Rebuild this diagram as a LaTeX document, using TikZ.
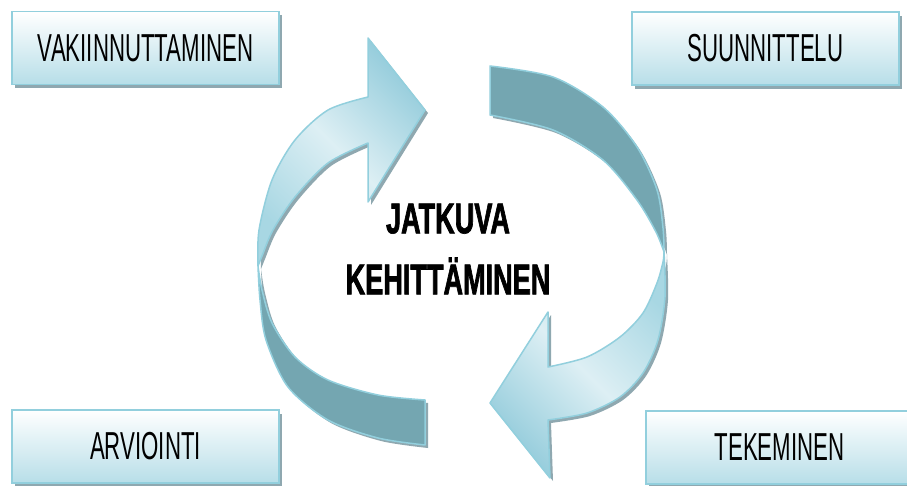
\documentclass[tikz,border=0pt]{standalone}
\usepackage{fontspec}
\setmainfont{Liberation Sans}
\newfontfamily\boxfont{Liberation Sans}[FakeStretch=0.57]
\newfontfamily\centerfont{Liberation Sans}[FakeStretch=0.63,FakeBold=1.5]
\usetikzlibrary{shadows}
\definecolor{boxedge}{HTML}{92CFDD}
\definecolor{boxbot}{HTML}{B7DEE8}
\definecolor{shadowc}{HTML}{8FA8B0}
\definecolor{backface}{HTML}{74A6B1}
\definecolor{frontmid}{HTML}{A8D7E3}
\definecolor{frontlight}{HTML}{DDEFF4}
\definecolor{frontdark}{HTML}{96CDDC}
\newcommand\lfrontpath{plot[smooth] coordinates {(258,266) (259,230) (272,180) (295,140) (328,110) (368,97)} -- (368,38) -- (425,110) -- (368,202) -- (368,143) -- plot[smooth] coordinates {(368,143) (328,163) (295,197) (273,230) (262,256) (258,266)} -- cycle}
\newcommand\lbackpath{plot[smooth] coordinates {(258,266) (260,300) (266,340) (288,387) (328,420) (378,438) (425,445)} -- (425,400) -- plot[smooth] coordinates {(425,400) (378,395) (328,380) (295,357) (272,323) (262,290) (258,266)} -- cycle}
\newcommand\rbackpath{plot[smooth] coordinates {(490,66) (553,77) (603,107) (637,147) (657,190) (663,228) (664,252)} -- plot[smooth] coordinates {(664,252) (656,232) (637,200) (603,160) (553,130) (490,115)} -- cycle}
\newcommand\rfrontpath{plot[smooth] coordinates {(664,252) (665,297) (658,340) (643,373) (620,397) (587,413) (548,420)} -- (550,478) -- (490,403) -- (548,312) -- (548,367) -- plot[smooth] coordinates {(548,367) (587,357) (620,337) (643,313) (657,283) (663,262) (664,252)} -- cycle}
\begin{document}
\begin{tikzpicture}[x=1pt,y=-1pt,
  box/.style={draw=boxedge, line width=1.8pt, top color=white, bottom color=boxbot,
    minimum width=267pt, minimum height=73pt, inner sep=0pt,
    font=\boxfont\fontsize{39}{39}\selectfont,
    drop shadow={fill=shadowc, opacity=1, shadow xshift=3pt, shadow yshift=-4pt}},
  shadowpart/.style={fill=shadowc, xshift=3pt, yshift=-3pt},
  backpart/.style={fill=backface, draw=boxedge, line width=1.5pt, line join=round},
  frontpart/.style={draw=boxedge, line width=1.5pt, line join=round},
  centertext/.style={font=\centerfont\bfseries\fontsize{43}{61}\selectfont, align=center, inner sep=0pt}]
\clip (0,0) rectangle (907,486);
\fill[white] (0,0) rectangle (907,486);
% boxes
\node[box] (vak) at (145.5,48) {VAKIINNUTTAMINEN};
\node[box] (suu) at (765.5,48.5) {SUUNNITTELU};
\node[box] (arv) at (145.5,446.5) {ARVIOINTI};
\node[box] (tek) at (779.5,447.5) {TEKEMINEN};
% back faces
\fill[shadowpart] \lbackpath;
\fill[shadowpart] \rbackpath;
\path[backpart] \lbackpath;
\path[backpart] \rbackpath;
% front faces
\fill[shadowpart] \lfrontpath;
\fill[shadowpart] \rfrontpath;
\path[frontpart, top color=frontdark, bottom color=frontmid, middle color=frontlight, shading angle=-45] \lfrontpath;
\path[frontpart, top color=frontdark, bottom color=frontmid, middle color=frontlight, shading angle=135] \rfrontpath;
% center text
\node[centertext] (ctr) at (448,249) {JATKUVA\\KEHITTÄMINEN};
\end{tikzpicture}
\end{document}
